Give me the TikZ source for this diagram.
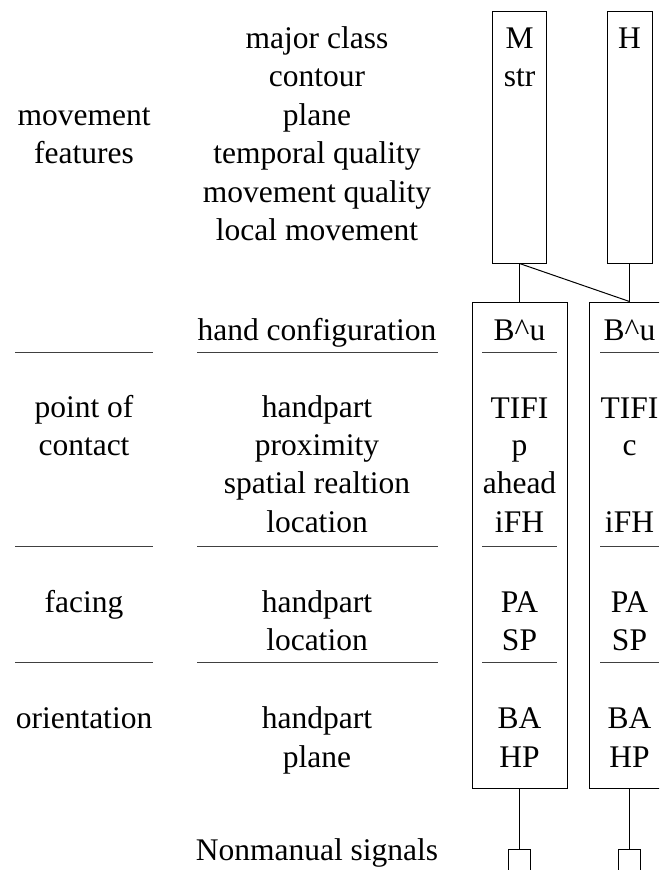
\documentclass[tikz,border=0pt]{standalone}
\usepackage{fontspec}
\setmainfont{Liberation Serif}
\begin{document}
\begin{tikzpicture}[x=1pt,y=-1pt,
  txt/.style={anchor=base,inner sep=0pt,font=\fontsize{31.5}{38}\selectfont},
  rulel/.style={line width=1pt,black!75},
  box/.style={draw,line width=1pt,inner sep=0pt},
  conn/.style={line width=1pt}]
\useasboundingbox (0,0) rectangle (659,870);
\clip (0,0) rectangle (659,870);
% boxes
\node[box,minimum width=54pt,minimum height=252pt] (M) at (519.5,137) {};
\node[box,minimum width=45pt,minimum height=252pt] (H) at (629.5,137) {};
\node[box,minimum width=95pt,minimum height=486pt] (L) at (519.5,545) {};
\node[box,minimum width=81pt,minimum height=486pt] (R) at (629.5,545) {};
\node[box,minimum width=22pt,minimum height=30pt] (nL) at (519.5,864) {};
\node[box,minimum width=22pt,minimum height=30pt] (nR) at (629.5,864) {};
% connectors
\draw[conn] (M.south) -- (L.north);
\draw[conn] (M.south) -- (R.north);
\draw[conn] (H.south) -- (R.north);
\draw[conn] (L.south) -- (nL.north);
\draw[conn] (R.south) -- (nR.north);
% rules
\foreach \y in {352,546,662}{
  \draw[rulel] (15,\y) -- (153,\y);
  \draw[rulel] (197,\y) -- (438,\y);
  \draw[rulel] (482,\y) -- (557,\y);
  \draw[rulel] (600,\y) -- (659,\y);
}
% left column
\node[txt] (l1) at (84,125) {movement};
\node[txt] (l2) at (84,163) {features};
\node[txt] (l3) at (84,417) {point of};
\node[txt] (l4) at (84,455) {contact};
\node[txt] (l5) at (84,612) {facing};
\node[txt] (l6) at (84,728) {orientation};
% middle column
\node[txt] (m1) at (317,48) {major class};
\node[txt] (m2) at (317,86) {contour};
\node[txt] (m3) at (317,125) {plane};
\node[txt] (m4) at (317,163) {temporal quality};
\node[txt] (m5) at (317,202) {movement quality};
\node[txt] (m6) at (317,240) {local movement};
\node[txt] (m7) at (317,340) {hand configuration};
\node[txt] (m8) at (317,417) {handpart};
\node[txt] (m9) at (317,455) {proximity};
\node[txt] (m10) at (317,493) {spatial realtion};
\node[txt] (m11) at (317,532) {location};
\node[txt] (m12) at (317,612) {handpart};
\node[txt] (m13) at (317,650) {location};
\node[txt] (m14) at (317,728) {handpart};
\node[txt] (m15) at (317,767) {plane};
\node[txt] (m16) at (317,860) {Nonmanual signals};
% left box column
\node[txt] (a1) at (519.5,48) {M};
\node[txt] (a2) at (519.5,86) {str};
\node[txt] (a3) at (519.5,340) {B\^{}u};
\node[txt] (a4) at (519.5,418) {TIFI};
\node[txt] (a5) at (519.5,455) {p};
\node[txt] (a6) at (519.5,493) {ahead};
\node[txt] (a7) at (519.5,532) {iFH};
\node[txt] (a8) at (519.5,612) {PA};
\node[txt] (a9) at (519.5,650) {SP};
\node[txt] (a10) at (519.5,728) {BA};
\node[txt] (a11) at (519.5,767) {HP};
% right box column
\node[txt] (b1) at (629.5,48) {H};
\node[txt] (b3) at (629.5,340) {B\^{}u};
\node[txt] (b4) at (629.5,418) {TIFI};
\node[txt] (b5) at (629.5,455) {c};
\node[txt] (b7) at (629.5,532) {iFH};
\node[txt] (b8) at (629.5,612) {PA};
\node[txt] (b9) at (629.5,650) {SP};
\node[txt] (b10) at (629.5,728) {BA};
\node[txt] (b11) at (629.5,767) {HP};
\end{tikzpicture}
\end{document}
